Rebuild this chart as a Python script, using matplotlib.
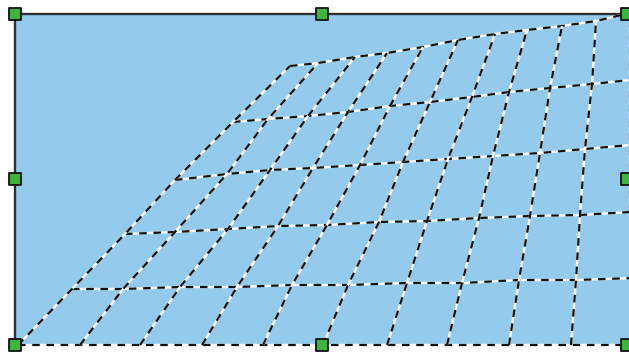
import numpy as np
import matplotlib.pyplot as plt
from matplotlib.patches import Rectangle

# mesh nodes, one list per row (bottom row first), pixel coords
row_x = [
    [18, 80, 140, 202, 263, 323, 387, 447, 509, 571, 633],
    [72, 123, 180, 237, 292, 348, 407, 462, 519, 576, 633],
    [125, 175, 228, 278, 327, 379, 427, 479, 530, 580, 630],
    [175, 227, 270, 313, 360, 403, 448, 493, 540, 585, 630],
    [233, 268, 308, 348, 390, 430, 472, 509, 550, 592, 630],
    [290, 318, 355, 387, 423, 458, 495, 527, 562, 596, 630],
]
row_y = [
    [345, 345, 345, 345, 345, 345, 345, 345, 345, 345, 345],
    [289, 289, 287, 287, 285, 285, 283, 283, 280, 280, 278],
    [234, 232, 229, 226, 225, 222, 221, 218, 216, 215, 212],
    [180, 174, 170, 168, 165, 162, 159, 156, 153, 149, 145],
    [122, 119, 116, 112, 106, 102, 97, 92, 88, 84, 80],
    [66, 63, 57, 53, 47, 40, 34, 30, 26, 21, 13],
]

# selection box and its handles
box = (15, 14, 627, 345)
handle_x = [15, 322, 627, 15, 627, 15, 322, 627]
handle_y = [14, 14, 14, 179, 179, 345, 345, 345]

fig = plt.figure(figsize=(6.29, 3.55), dpi=100)
ax = fig.add_axes([0, 0, 1, 1])
ax.set_xlim(0, 629)
ax.set_ylim(355, 0)
ax.axis("off")

x0, y0, x1, y1 = box
ax.add_patch(Rectangle((x0, y0), x1 - x0 + 10, y1 - y0, fc="#94cbec", ec="none"))
ax.plot([x0, x0, x1 + 10], [y1, y0, y0], color="#2e2e2e", lw=1.7, solid_capstyle="butt")

X = np.array(row_x, dtype=float)
Y = np.array(row_y, dtype=float)

def dashed(xs, ys):
    ax.plot(xs, ys, color="white", lw=1.7, solid_capstyle="butt")
    ax.plot(xs, ys, color="#111111", lw=1.6, dashes=(3.4, 3.0))

for i in range(X.shape[0]):
    dashed(X[i], Y[i])
for j in range(X.shape[1]):
    dashed(X[:, j], Y[:, j])

ax.scatter(handle_x, handle_y, marker="s", s=75, fc="#3fb33f", ec="#111111",
           lw=1.3, zorder=5, clip_on=False)

fig.savefig("out.png", dpi=100)
